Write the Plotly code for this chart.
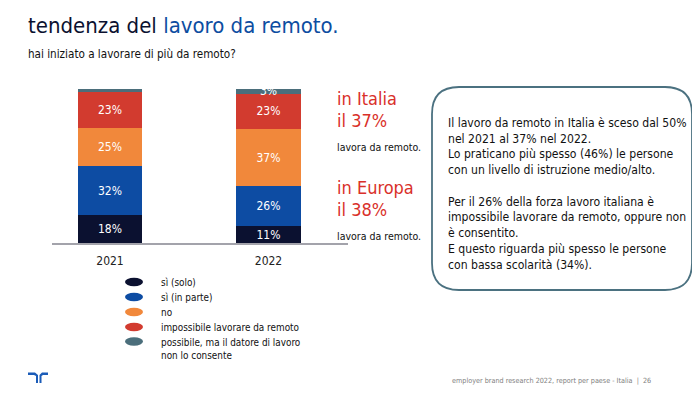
import plotly.graph_objects as go

# page body has an 8px margin: figure is sized so the page is 700x393
OFF = 8
W, H = 700 - 2 * OFF, 393 - 2 * OFF

years = ["2021", "2022"]
series_names = [
    "sì (solo)",
    "sì (in parte)",
    "no",
    "impossibile lavorare da remoto",
    "possibile, ma il datore di lavoro<br>non lo consente",
]
si_solo = [18, 11]
si_in_parte = [32, 26]
no_vals = [25, 37]
impossibile = [23, 23]
non_consente = [2, 3]
series_values = [si_solo, si_in_parte, no_vals, impossibile, non_consente]
series_colors = ["#0b1130", "#0d4ca3", "#f1883b", "#d23b2f", "#4b6e7b"]
hide_label_below = 3  # values below this are not labelled

FONT = "Tahoma, 'DejaVu Sans Condensed', 'DejaVu Sans', sans-serif"


def px(x):
    return (x - OFF) / W


def py(y):
    return 1 - (y - OFF) / H


fig = go.Figure()
for name, vals, col in zip(series_names, series_values, series_colors):
    fig.add_trace(go.Bar(
        x=years, y=vals, name=name, marker=dict(color=col, line=dict(width=0)),
        width=0.405,
        text=[f"{v}%" if v >= hide_label_below else "" for v in vals],
        textposition="inside", insidetextanchor="middle", constraintext="none",
        textangle=0,
        textfont=dict(color="white", size=12, family=FONT),
        showlegend=False, hoverinfo="skip",
    ))

# axis geometry (pixels)
ax_left, ax_right = 52, 348
c0, c1 = 110, 268.5
unit = c1 - c0
fig.update_layout(
    width=W, height=H, margin=dict(l=0, r=0, t=0, b=0),
    paper_bgcolor="white", plot_bgcolor="white", barmode="stack",
    font=dict(family=FONT),
    xaxis=dict(domain=[px(ax_left), px(ax_right)], type="category",
               range=[(ax_left - c0) / unit, 1 + (ax_right - c1) / unit],
               showline=True, linecolor="#a3a3ab", linewidth=1.5,
               showgrid=False, ticks="", ticklabelstandoff=6,
               tickfont=dict(size=12, color="#222222", family=FONT)),
    yaxis=dict(domain=[py(243), py(89)], range=[0, 100], visible=False,
               showgrid=False),
)

ann = []
# title + subtitle
ann.append(dict(x=px(26), y=py(25), xref="paper", yref="paper", xanchor="left",
                yanchor="middle", showarrow=False,
                text="tendenza del <span style='color:#0d4da1'>lavoro da remoto.</span>",
                font=dict(size=22, color="#0b1130", family=FONT)))
ann.append(dict(x=px(26), y=py(54), xref="paper", yref="paper", xanchor="left",
                yanchor="middle", showarrow=False,
                text="hai iniziato a lavorare di più da remoto?",
                font=dict(size=11.6, color="#111111", family=FONT)))

# side highlights
red = "#d9302a"
for txt, y, size, col in [
    ("in Italia", 98, 18, red), ("il 37%", 120, 18, red),
    ("lavora da remoto.", 147, 10.5, "#111111"),
    ("in Europa", 187, 18, red), ("il 38%", 209, 18, red),
    ("lavora da remoto.", 236, 10.5, "#111111"),
]:
    ann.append(dict(x=px(335), y=py(y), xref="paper", yref="paper",
                    xanchor="left", yanchor="middle", showarrow=False, text=txt,
                    font=dict(size=size, color=col, family=FONT)))

# legend (custom)
leg_y = [282, 297, 312, 327, 341.5]
shapes = []
for name, col, y in zip(series_names, series_colors, leg_y):
    shapes.append(dict(type="circle", xref="paper", yref="paper",
                       x0=px(125), x1=px(143), y0=py(y + 4.2), y1=py(y - 4.2),
                       fillcolor=col, line=dict(width=0)))
    two = "<br>" in name
    ann.append(dict(x=px(159), y=py(y), xref="paper", yref="paper",
                    xanchor="left", yanchor="top" if two else "middle",
                    yshift=7 if two else 0,
                    showarrow=False, text=name, align="left",
                    font=dict(size=9.9, color="#111111", family=FONT)))

# rounded info box
bx0, bx1, by0, by1, r = 432, 692, 87, 290, 27


def P(x, y):
    return f"{px(x):.5f},{py(y):.5f}"


path = (f"M {P(bx0 + r, by0)} L {P(bx1 - r, by0)} Q {P(bx1, by0)} {P(bx1, by0 + r)} "
        f"L {P(bx1, by1 - r)} Q {P(bx1, by1)} {P(bx1 - r, by1)} "
        f"L {P(bx0 + r, by1)} Q {P(bx0, by1)} {P(bx0, by1 - r)} "
        f"L {P(bx0, by0 + r)} Q {P(bx0, by0)} {P(bx0 + r, by0)} Z")
shapes.append(dict(type="path", xref="paper", yref="paper", path=path,
                   line=dict(color="#4b7180", width=1.8), fillcolor="rgba(0,0,0,0)"))

box_text = ("Il lavoro da remoto in Italia è sceso dal 50%<br>"
            "nel 2021 al 37% nel 2022.<br>"
            "Lo praticano più spesso (46%) le persone<br>"
            "con un livello di istruzione medio/alto.<br>"
            " <br>"
            "Per il 26% della forza lavoro italiana è<br>"
            "impossibile lavorare da remoto, oppure non<br>"
            "è consentito.<br>"
            "E questo riguarda più spesso le persone<br>"
            "con bassa scolarità (34%).")
ann.append(dict(x=px(446), y=py(193.5), xref="paper", yref="paper",
                xanchor="left", yanchor="middle", showarrow=False, align="left",
                text=box_text, font=dict(size=12.1, color="#111111", family=FONT)))

# footer
ann.append(dict(x=px(653), y=py(380), xref="paper", yref="paper",
                xanchor="right", yanchor="middle", showarrow=False,
                text="employer brand research 2022, report per paese - Italia  |  26",
                font=dict(size=7.2, color="#808080", family=FONT)))

# logo
logo_col = "#1b5cb8"
left_arm = [(28, 372.5), (35, 372.5), (38, 375), (38, 383), (36, 383), (36, 376), (34, 375), (28, 375)]
right_arm = [(48, 372.5), (42, 372.5), (39.5, 375), (39.5, 383), (41.5, 383), (41.5, 376), (43, 375), (48, 375)]
for arm in (left_arm, right_arm):
    p = "M " + " L ".join(P(x, y) for x, y in arm) + " Z"
    shapes.append(dict(type="path", xref="paper", yref="paper", path=p,
                       fillcolor=logo_col, line=dict(width=0)))

fig.update_layout(annotations=ann, shapes=shapes)
fig.write_html("out.html")
